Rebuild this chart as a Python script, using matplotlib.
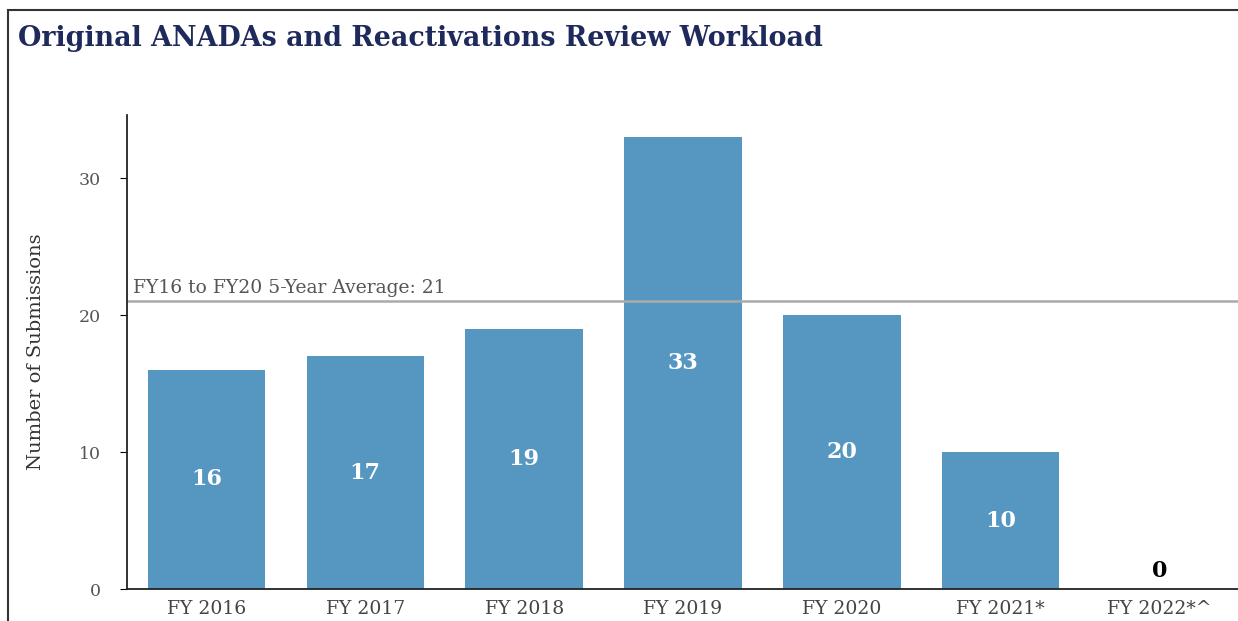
import matplotlib.pyplot as plt
import matplotlib.patches as patches

years = ["FY 2016", "FY 2017", "FY 2018", "FY 2019", "FY 2020", "FY 2021*", "FY 2022*^"]
submissions = [16, 17, 19, 33, 20, 10, 0]
average = 21
avg_label = "FY16 to FY20 5-Year Average: 21"

plt.rcParams['font.family'] = ['DejaVu Serif']

fig = plt.figure(figsize=(12.38, 6.21), dpi=100)

# frame around the chart (left and top visible)
fig.patches.append(patches.Rectangle((8 / 1238, -0.1), 1.2, (611 + 62) / 621,
                                     transform=fig.transFigure, fill=False,
                                     edgecolor='#333333', linewidth=1.5))

fig.text(18 / 1238, 1 - 39 / 621, "Original ANADAs and Reactivations Review Workload",
         fontsize=19.4, fontweight='bold', color='#1f2a5c', va='center', ha='left')

ax = fig.add_axes([127 / 1238, 32 / 621, 1112 / 1238, 474 / 621])
x = range(len(years))
ax.bar(x, submissions, width=0.74, color='#5597c1')
ax.set_xlim(-0.5, 6.5)
ax.set_ylim(0, 34.6)

for xi, v in zip(x, submissions):
    if v > 0:
        ax.text(xi, v / 2, str(v), ha='center', va='center', color='white',
                fontsize=16, fontweight='bold')
    else:
        ax.text(xi, 1.3, str(v), ha='center', va='center', color='black',
                fontsize=16, fontweight='bold')

ax.axhline(average, color='#aaaaaa', linewidth=1.8)
ax.text(0.005, average + 0.3, avg_label, transform=ax.get_yaxis_transform(),
        ha='left', va='bottom', fontsize=13.5, color='#555555')

ax.set_xticks(list(x))
ax.set_xticklabels(years, fontsize=13.5, color='#444444')
ax.tick_params(axis='x', length=0, pad=8)
ax.set_yticks([0, 10, 20, 30])
ax.tick_params(axis='y', labelsize=12.5, labelcolor='#555555', length=5, pad=14)
ax.set_ylabel("Number of Submissions", fontsize=14, color='#333333', labelpad=24)

for s in ['top', 'right']:
    ax.spines[s].set_visible(False)
for s in ['left', 'bottom']:
    ax.spines[s].set_linewidth(1.3)
    ax.spines[s].set_color('#222222')

fig.savefig('out.png', dpi=100)
